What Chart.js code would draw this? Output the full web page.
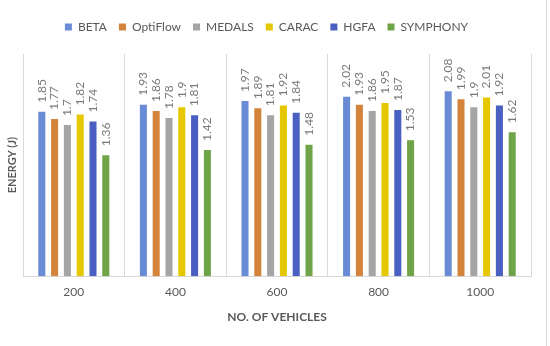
<!DOCTYPE html>
<html>
<head>
<meta charset="utf-8">
<script src="https://cdn.jsdelivr.net/npm/chart.js@4"></script>
<style>
  html, body { margin: 0; padding: 0; background: #fff; }
  #wrap { position: relative; width: 550px; height: 346px; }
  #edge { position: absolute; left: 546px; top: 0; width: 1px; height: 346px; background: #d9d9d9; }
</style>
</head>
<body>
<div id="wrap">
  <canvas id="chart" width="550" height="346"></canvas>
  <div id="edge"></div>
</div>
<script>
'use strict';

/* ── Data ─────────────────────────────────────────────────────────────── */
const vehicles  = ['200', '400', '600', '800', '1000'];
const beta      = [1.85, 1.93, 1.97, 2.02, 2.08];
const optiFlow  = [1.77, 1.86, 1.89, 1.93, 1.99];
const medals    = [1.7, 1.78, 1.81, 1.86, 1.9];
const carac     = [1.82, 1.9, 1.92, 1.95, 2.01];
const hgfa      = [1.74, 1.81, 1.84, 1.87, 1.92];
const symphony  = [1.36, 1.42, 1.48, 1.53, 1.62];

const FONT = 'Lato';
const GREY = '#595959';

/* ── Rotated value labels above each bar ─────────────────────────────── */
const valueLabels = {
  id: 'valueLabels',
  afterDatasetsDraw(chart) {
    const ctx = chart.ctx;
    ctx.save();
    ctx.font = `12px ${FONT}`;
    ctx.fillStyle = '#7a7a7a';
    ctx.textAlign = 'left';
    ctx.textBaseline = 'middle';
    chart.data.datasets.forEach((ds, i) => {
      chart.getDatasetMeta(i).data.forEach((bar, j) => {
        ctx.save();
        ctx.translate(bar.x, bar.y - 9);
        ctx.rotate(-Math.PI / 2);
        ctx.fillText(String(ds.data[j]), 0, 0);
        ctx.restore();
      });
    });
    ctx.restore();
  },
};

/* ── Extra room under the legend ─────────────────────────────────────── */
const legendGap = {
  id: 'legendGap',
  beforeInit(chart) {
    const fit = chart.legend.fit;
    chart.legend.fit = function () {
      fit.bind(chart.legend)();
      this.height += 11;
    };
  },
};

const mk = (label, data, color) => ({
  label, data,
  backgroundColor: color,
  borderWidth: 0,
  categoryPercentage: 0.756,
  barPercentage: 0.55,
});

new Chart(document.getElementById('chart').getContext('2d'), {
  type: 'bar',
  data: {
    labels: vehicles,
    datasets: [
      mk('BETA',     beta,     '#6a8bd6'),
      mk('OptiFlow', optiFlow, '#d4843a'),
      mk('MEDALS',   medals,   '#a5a5a5'),
      mk('CARAC',    carac,    '#e6c800'),
      mk('HGFA',     hgfa,     '#4a5fc2'),
      mk('SYMPHONY', symphony, '#70a448'),
    ],
  },
  options: {
    responsive: false,
    animation: false,
    layout: { padding: { top: 9, left: 2, right: 19, bottom: 22 } },
    plugins: {
      legend: {
        position: 'top',
        labels: {
          color: GREY,
          font: { family: FONT, size: 12 },
          boxWidth: 7,
          boxHeight: 7,
          padding: 12,
        },
      },
      tooltip: { enabled: false },
    },
    scales: {
      x: {
        grid: { color: '#d9d9d9', drawTicks: false, offset: true },
        border: { color: '#d9d9d9' },
        ticks: { color: GREY, font: { family: FONT, size: 12 }, padding: 9 },
        title: {
          display: true,
          text: 'NO. OF VEHICLES',
          color: GREY,
          font: { family: FONT, size: 12, weight: 'bold' },
          padding: { top: 1, bottom: 0 },
        },
      },
      y: {
        min: 0,
        max: 2.5,
        grid: { display: false },
        border: { display: false },
        ticks: { display: false },
        afterFit(axis) { axis.width = 21; },
        title: {
          display: true,
          text: 'ENERGY (J)',
          color: GREY,
          font: { family: FONT, size: 11, weight: 'bold' },
          padding: { top: 4, bottom: 4 },
        },
      },
    },
  },
  plugins: [valueLabels, legendGap],
});
</script>
</body>
</html>
